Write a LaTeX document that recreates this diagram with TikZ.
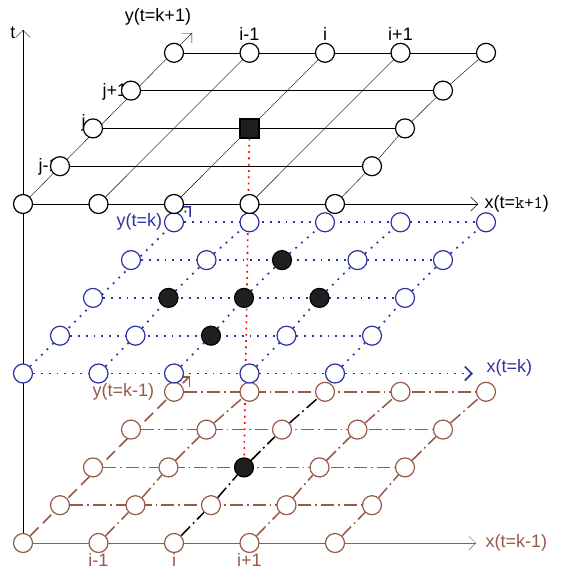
\documentclass[tikz,border=0pt]{standalone}
\usepackage{fontspec}
\setmainfont{Liberation Sans}
\usetikzlibrary{arrows.meta,positioning,calc}
\definecolor{layblue}{RGB}{45,50,160}
\definecolor{laybrown}{RGB}{150,90,70}
\pgfdeclarelayer{bg}
\pgfsetlayers{bg,main}

\begin{document}
\begin{tikzpicture}[x=1pt,y=-1pt,>={Straight Barb[length=7pt,width=14pt]},
   line width=1.35pt,
   every node/.style={font=\fontsize{18}{20}\selectfont},
   pt/.style={circle,draw,fill=white,minimum size=19pt,inner sep=0pt,line width=1.2pt},
   top/.style={pt,draw=black},
   mid/.style={pt,draw=layblue},
   bot/.style={pt,draw=laybrown},
   hit/.style={pt,draw=black,fill=black!88},
   box/.style={rectangle,draw,fill=black!88,minimum size=19pt,inner sep=0pt},
   lab/.style={inner sep=0pt},
   dotline/.style={layblue,line width=1.7pt,dash pattern=on 1.8pt off 6pt},
   dashdot/.style={laybrown,line width=1.5pt,dash pattern=on 13pt off 4pt on 1.8pt off 4pt},
   longdash/.style={laybrown,line width=1.5pt,dash pattern=on 12pt off 6pt},
   redline/.style={red,line width=1.6pt,dash pattern=on 1.8pt off 4.5pt}]
  \useasboundingbox (0,0) rectangle (560,576);

  % layer t=k-1
  \foreach \r/\lx in {0/23,1/60,2/93,3/131,4/174}
    \foreach \c/\ox in {0/0,1/75.5,2/151,3/226.5,4/312} {
      \pgfmathtruncatemacro\d{abs(\r-2)+abs(\c-2)}
      \ifnum\d=0 \def\sty{hit}\else\def\sty{bot}\fi
      \node[\sty] (c-\r-\c) at (\lx+\ox,543-37.8*\r) {};
    }
  % layer t=k
  \foreach \r/\lx in {0/23,1/60,2/93,3/131,4/174}
    \foreach \c/\ox in {0/0,1/75.5,2/151,3/226.5,4/312} {
      \pgfmathtruncatemacro\d{abs(\r-2)+abs(\c-2)}
      \ifnum\d<2 \def\sty{hit}\else\def\sty{mid}\fi
      \node[\sty] (b-\r-\c) at (\lx+\ox,373.5-37.8*\r) {};
    }
  % layer t=k+1
  \node[lab,anchor=base west] (jlab-1) at (38,171) {j-1};
  \node[lab,anchor=base west] (jlab-2) at (81,127) {j};
  \node[lab,anchor=base west] (jlab-3) at (102,96) {j+1};
  \foreach \r/\lx in {0/23,1/60,2/93,3/131,4/174} {
    \node[top] (a-\r-0) at (\lx,204-37.8*\r) {};
    \node[top] (a-\r-4) at (\lx+312,204-37.8*\r) {};
  }
  \foreach \c/\ox in {1/75.5,2/151,3/226.5} {
    \node[top] (a-0-\c) at (23+\ox,204) {};
    \node[top] (a-4-\c) at (174+\ox,52.8) {};
  }
  \node[box] (sq) at ($(a-0-2)!0.5!(a-4-2)$) {};

  \coordinate (tend) at (23,30);
  \coordinate (ax) at (478,204);
  \coordinate (ay) at (192,33);
  \coordinate (bx) at (473,373.5);
  \coordinate (by) at (191,206);
  \coordinate (cx) at (476,543);
  \coordinate (cy) at (190,376);

  % labels
  \node[lab] (tlab) at (13,33) {t};
  \node[lab] (ylab-a) at (158,17) {y(t=k+1)};
  \node[lab,anchor=west] (xlab-a) at (484,204) {x(t=\texttt{k+1})};
  \foreach \c/\t in {1/i-1,2/i,3/i+1}
    \node[lab,above=2pt of a-4-\c] (ilab-a-\c) {\t};
  \node[lab,layblue,left=1pt of b-4-0] (ylab-b) {y(t=k)};
  \node[lab,layblue,anchor=west] (xlab-b) at (486,368) {x(t=k)};
  \node[lab,laybrown,left=9pt of c-4-0] (ylab-c) {y(t=k-1)};
  \node[lab,laybrown,anchor=west] (xlab-c) at (485,543) {x(t=k-1)};
  \foreach \c/\t in {1/i-1,2/i,3/i+1}
    \node[lab,laybrown,below=0pt of c-0-\c] (ilab-c-\c) {\t};

  \begin{pgfonlayer}{bg}
    \draw[->] (c-0-0) -- (tend);
    % t=k+1
    \draw[->] (a-0-0) -- (ax);
    \draw[->] (a-0-0) -- (ay);
    \foreach \r in {1,...,4} \draw (a-\r-0) -- (a-\r-4);
    \foreach \c in {1,2,3} \draw (a-0-\c) -- (a-4-\c);
    \draw (a-0-4) -- (a-1-4) -- (a-2-4) -- (a-3-4) -- (a-4-4);
    % t=k
    \draw[dotline,->] (b-0-0) -- (bx);
    \draw[dotline,->] (b-0-0) -- (by);
    \foreach \r in {1,...,4} \draw[dotline] (b-\r-0) -- (b-\r-4);
    \foreach \c in {1,...,4}
      \draw[dotline] (b-0-\c) -- (b-1-\c) -- (b-2-\c) -- (b-3-\c) -- (b-4-\c);
    % t=k-1
    \draw[laybrown,->] (c-0-0) -- (cx);
    \draw[longdash,->] (c-0-0) -- (cy);
    \foreach \r in {1,...,4} \draw[dashdot] (c-\r-0) -- (c-\r-4);
    \foreach \c in {1,3,4}
      \draw[dashdot] (c-0-\c) -- (c-1-\c) -- (c-2-\c) -- (c-3-\c) -- (c-4-\c);
    \draw[dashdot,black] (c-0-2) -- (c-1-2) -- (c-2-2) -- (c-3-2) -- (c-4-2);
    \draw[redline] (sq) -- (c-2-2);
  \end{pgfonlayer}
\end{tikzpicture}
\end{document}
